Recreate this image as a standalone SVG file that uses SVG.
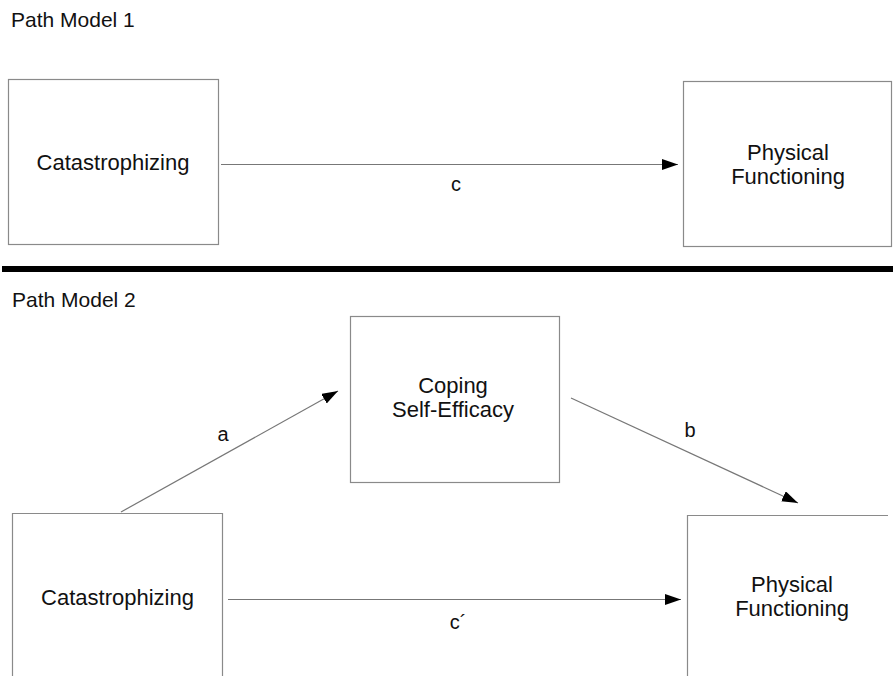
<svg xmlns="http://www.w3.org/2000/svg" width="893" height="676" viewBox="0 0 893 676">
<defs>
<style>
.box{fill:none;stroke:#8a8a8a;stroke-width:1.2}
.lbl{font-family:"Liberation Sans",Arial,sans-serif;font-size:22px;fill:#111;text-anchor:middle}
.ttl{font-family:"Liberation Sans",Arial,sans-serif;font-size:21px;fill:#111}
.edge{stroke:#777;stroke-width:1.2;fill:none}
.el{font-family:"Liberation Sans",Arial,sans-serif;font-size:20px;fill:#111;text-anchor:middle}
</style>
<marker id="ah" markerWidth="17" markerHeight="12" refX="16" refY="5.5" orient="auto" markerUnits="userSpaceOnUse">
<path d="M0,0 L16,5.5 L0,11 Z" fill="#000"/>
</marker>
</defs>
<rect width="893" height="676" fill="#fff"/>
<text class="ttl" x="11" y="27">Path Model 1</text>
<rect x="2" y="266" width="891" height="6" fill="#000"/>
<text class="ttl" x="12" y="307">Path Model 2</text>
<g id="n1-catastrophizing">
<rect class="box" x="8.5" y="79.5" width="210" height="165"/>
<text class="lbl" x="113" y="170">Catastrophizing</text>
</g>
<g id="n1-physical">
<rect class="box" x="683.5" y="81.5" width="208" height="165"/>
<text class="lbl" x="788" y="160">Physical</text>
<text class="lbl" x="788" y="184">Functioning</text>
</g>
<g id="n2-coping">
<rect class="box" x="350.5" y="316.5" width="209" height="166"/>
<text class="lbl" x="453" y="393">Coping</text>
<text class="lbl" x="453" y="417">Self-Efficacy</text>
</g>
<g id="n2-catastrophizing">
<path class="box" d="M12.5,676 V513.5 H222.5 V676"/>
<text class="lbl" x="117.5" y="605">Catastrophizing</text>
</g>
<g id="n2-physical">
<path class="box" d="M888,515.5 H687.5 V676"/>
<text class="lbl" x="792" y="592">Physical</text>
<text class="lbl" x="792" y="616">Functioning</text>
</g>
<g id="connectors">
<line class="edge" x1="221" y1="164.5" x2="678" y2="164.5" marker-end="url(#ah)"/>
<text class="el" x="456" y="191">c</text>
<line class="edge" x1="121" y1="512" x2="338" y2="391" marker-end="url(#ah)"/>
<text class="el" x="223" y="441">a</text>
<line class="edge" x1="571" y1="398" x2="798" y2="503" marker-end="url(#ah)"/>
<text class="el" x="690" y="437">b</text>
<line class="edge" x1="228" y1="599.5" x2="681" y2="599.5" marker-end="url(#ah)"/>
<text class="el" x="458" y="629">c´</text>
</g>
</svg>
